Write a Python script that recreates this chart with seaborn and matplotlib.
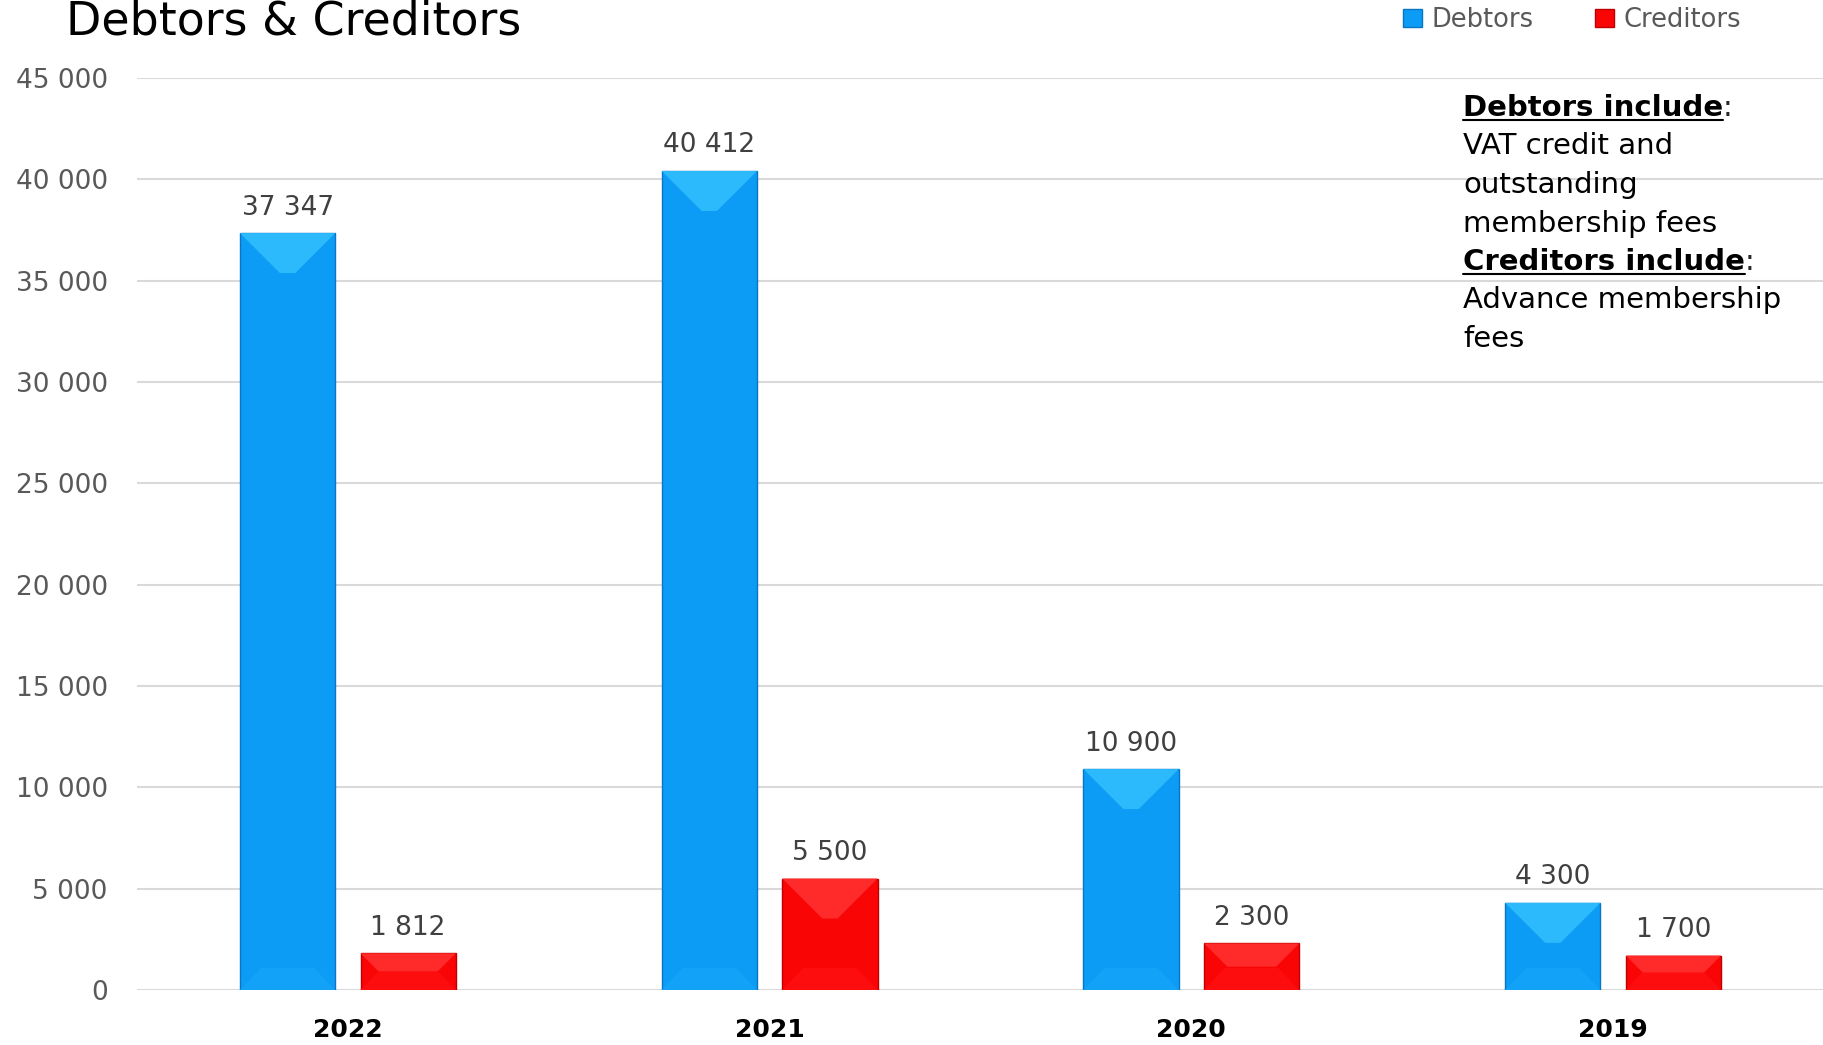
import pandas as pd
import matplotlib.pyplot as plt
import seaborn as sns

# data
years = ["2022", "2021", "2020", "2019"]
debtors = [37347, 40412, 10900, 4300]
creditors = [1812, 5500, 2300, 1700]
y_ticks = [0, 5000, 10000, 15000, 20000, 25000, 30000, 35000, 40000, 45000]

note_lines = [
    ("Debtors include", True),
    ("VAT credit and", False),
    ("outstanding", False),
    ("membership fees", False),
    ("Creditors include", True),
    ("Advance membership", False),
    ("fees", False),
]


def fmt(v):
    return f"{int(round(v)):,}".replace(",", " ")


df = pd.DataFrame({
    "year": years * 2,
    "value": debtors + creditors,
    "kind": ["Debtors"] * len(years) + ["Creditors"] * len(years),
})

sns.set_style("white")
plt.rcParams["font.family"] = ["DejaVu Sans"]

fig = plt.figure(figsize=(18.24, 10.45), dpi=100)
ax = fig.add_axes([137 / 1824, 55 / 1045, 1 - 137 / 1824, (990 - 78) / 1045])

palette = {"Debtors": "#0c9cf6", "Creditors": "#fa0505"}
edges = {"Debtors": "#0b74c4", "Creditors": "#c00000"}
tops = {"Debtors": "#2cbafd", "Creditors": "#ff2a2a"}
bottoms = {"Debtors": "#12a2f8", "Creditors": "#fd0d0d"}

sns.barplot(data=df, x="year", y="value", hue="kind", order=years,
            hue_order=["Debtors", "Creditors"], palette=palette,
            width=0.572, gap=0.21, saturation=1, legend=False, ax=ax,
            edgecolor="none")

# bevel look of the original bars, derived from each patch
px = 45000 / 912  # data units per pixel
for c, kind in zip(ax.containers, ["Debtors", "Creditors"]):
    for bar in c.patches:
        x0, w, h = bar.get_x(), bar.get_width(), bar.get_height()
        bar.set_edgecolor(edges[kind])
        bar.set_linewidth(1.0)
        d = min(40 * px, h / 2)
        ins = w * 0.42 * d / (40 * px)
        ax.fill([x0, x0 + w, x0 + w - ins, x0 + ins], [h, h, h - d, h - d],
                color=tops[kind], lw=0, zorder=3)
        db = min(22 * px, h / 2)
        insb = w * 0.22 * db / (22 * px)
        ax.fill([x0, x0 + w, x0 + w - insb, x0 + insb], [0, 0, db, db],
                color=bottoms[kind], lw=0, zorder=3)

for c in ax.containers:
    ax.bar_label(c, labels=[fmt(v) for v in c.datavalues], padding=9,
                 fontsize=19, color="#404040")

ax.set_xlim(-0.5, 3.5)
ax.set_ylim(0, 45000)
ax.set_yticks(y_ticks)
ax.set_yticklabels([fmt(t) for t in y_ticks], fontsize=19, color="#595959")
ax.tick_params(axis="y", length=0, pad=21)
ax.tick_params(axis="x", length=0, pad=20, labelsize=18, labelcolor="black")
for lbl in ax.get_xticklabels():
    lbl.set_fontweight("bold")
ax.set_xlabel("")
ax.set_ylabel("")
ax.yaxis.grid(True, color="#d9d9d9", lw=1.5)
ax.set_axisbelow(True)
sns.despine(ax=ax, left=True, bottom=True, top=True, right=True)

fig.text(66 / 1824, 1 - 22 / 1045, "Debtors & Creditors", fontsize=33,
         va="center", ha="left", color="black")

# legend
handles = [plt.Rectangle((0, 0), 1, 1, facecolor=palette[k], edgecolor=edges[k])
           for k in ["Debtors", "Creditors"]]
fig.legend(handles, ["Debtors", "Creditors"], loc="center left",
           bbox_to_anchor=(1380 / 1824, 1 - 20 / 1045), ncol=2, frameon=False,
           fontsize=18.5, handlelength=0.75, handleheight=0.75, columnspacing=2.4,
           handletextpad=0.35, labelcolor="#595959")

# note block
fig.canvas.draw()
renderer = fig.canvas.get_renderer()
y = 1 - 108 / 1045
for text, bold in note_lines:
    t = fig.text(1463 / 1824, y, text, fontsize=21, va="center", ha="left",
                 fontweight="bold" if bold else "normal", color="black")
    if bold:
        bb = t.get_window_extent(renderer).transformed(fig.transFigure.inverted())
        fig.add_artist(plt.Line2D([bb.x0, bb.x1], [bb.y0 + 0.002, bb.y0 + 0.002],
                                  color="black", lw=1.5, transform=fig.transFigure))
        fig.text(bb.x1, y, ":", fontsize=21, va="center", ha="left")
    y -= 38.5 / 1045

fig.savefig("out.png", dpi=100)
